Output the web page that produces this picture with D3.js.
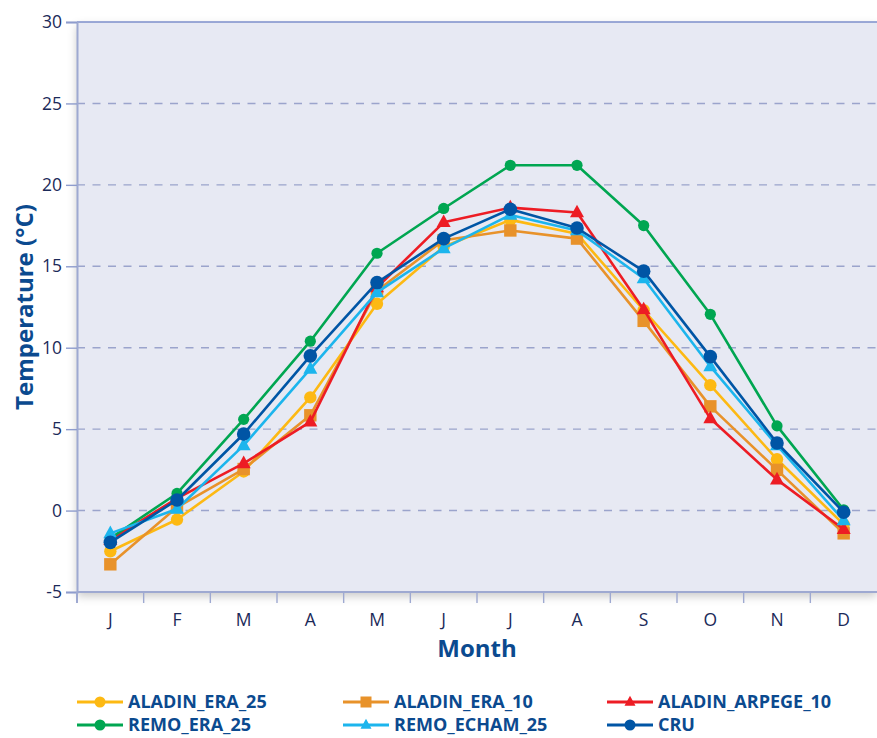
<!DOCTYPE html>
<html>
<head>
<meta charset="utf-8">
<script src="https://cdn.jsdelivr.net/npm/d3@7"></script>
<style>
  body { margin: 0; background: #fff; }
  svg text { font-family: "Open Sans", "Noto Sans", sans-serif; }
</style>
</head>
<body>
<svg id="chart" width="877" height="738"></svg>
<script>
// Month labels
const months = ["J", "F", "M", "A", "M", "J", "J", "A", "S", "O", "N", "D"];
const yTicks = [-5, 0, 5, 10, 15, 20, 25, 30];

// Series values (°C)
const aladinEra25   = [-2.5, -0.55, 2.4, 6.95, 12.7, 16.2, 17.85, 17.0, 12.3, 7.7, 3.15, -0.85];
const aladinEra10   = [-3.3, 0.2, 2.55, 5.85, 13.5, 16.6, 17.2, 16.7, 11.65, 6.4, 2.5, -1.4];
const aladinArpege10 = [-1.8, 0.75, 2.9, 5.45, 13.7, 17.7, 18.6, 18.3, 12.35, 5.65, 1.9, -1.15];
const remoEra25     = [-1.7, 1.05, 5.6, 10.4, 15.8, 18.55, 21.2, 21.2, 17.5, 12.05, 5.2, 0.05];
const remoEcham25   = [-1.4, 0.1, 4.0, 8.7, 13.4, 16.1, 18.15, 17.2, 14.25, 8.85, 4.0, -0.6];
const cru           = [-1.95, 0.65, 4.7, 9.5, 14.0, 16.7, 18.5, 17.35, 14.7, 9.45, 4.15, -0.1];

const series = [
  {name: "ALADIN_ERA_25", values: aladinEra25, color: "#fdb913", shape: "circle", r: 6.2},
  {name: "ALADIN_ERA_10", values: aladinEra10, color: "#e8922a", shape: "square", r: 6.2},
  {name: "ALADIN_ARPEGE_10", values: aladinArpege10, color: "#ed1c24", shape: "triangle", r: 7},
  {name: "REMO_ERA_25", values: remoEra25, color: "#00a651", shape: "circle", r: 5.6},
  {name: "REMO_ECHAM_25", values: remoEcham25, color: "#1cb5ed", shape: "triangle", r: 7},
  {name: "CRU", values: cru, color: "#0055a5", shape: "circle", r: 6.8}
];

const margin = {top: 22, right: 0, bottom: 146, left: 77},
    width = 877 - margin.left - margin.right,
    height = 738 - margin.top - margin.bottom;

const svg = d3.select("#chart");

// soft shadow under the plot area
const defs = svg.append("defs");
const filt = defs.append("filter").attr("id", "shadow")
    .attr("x", "-5%").attr("y", "-5%").attr("width", "110%").attr("height", "115%");
filt.append("feDropShadow")
    .attr("dx", 0).attr("dy", 4).attr("stdDeviation", 5)
    .attr("flood-color", "#000").attr("flood-opacity", 0.22);

const g = svg.append("g").attr("transform", `translate(${margin.left},${margin.top})`);

const x = d3.scaleBand().domain(d3.range(12)).range([0, width]);
const y = d3.scaleLinear().domain([-5, 30]).range([height, 0]);

// plot background
g.append("rect")
    .attr("width", width).attr("height", height)
    .attr("fill", "#e7e9f3")
    .attr("filter", "url(#shadow)");

// dashed grid lines
g.selectAll(".grid")
    .data(yTicks.filter(d => d > -5 && d < 30))
    .enter().append("line")
    .attr("x1", 0).attr("x2", width)
    .attr("y1", d => y(d)).attr("y2", d => y(d))
    .attr("stroke", "#9ba4cc")
    .attr("stroke-width", 1.4)
    .attr("stroke-dasharray", "8,7.5");

// top border
g.append("line")
    .attr("x1", 0).attr("x2", width).attr("y1", 0).attr("y2", 0)
    .attr("stroke", "#7e8fcb").attr("stroke-width", 1.6);

// Y axis (plain hyphen for negatives)
const yAxis = g.append("g")
    .call(d3.axisLeft(y).tickValues(yTicks).tickFormat(d => String(d)).tickSize(11).tickPadding(4));
yAxis.select(".domain").attr("stroke", "#9ea9d1").attr("stroke-width", 2);
yAxis.selectAll(".tick line").attr("stroke", "#8e9ccd").attr("stroke-width", 1.4);
yAxis.selectAll(".tick text")
    .attr("fill", "#1b2a59").style("font-size", "17.5px");

// X axis (ticks between months)
const xb = g.append("g").attr("transform", `translate(0,${height})`);
xb.append("line").attr("x1", 0).attr("x2", width)
    .attr("stroke", "#9ea9d1").attr("stroke-width", 2);
xb.selectAll(".xt")
    .data(d3.range(1, 12))
    .enter().append("line")
    .attr("x1", d => x(d)).attr("x2", d => x(d))
    .attr("y1", 0).attr("y2", 11)
    .attr("stroke", "#9ea9d1").attr("stroke-width", 1.4);
xb.append("line").attr("x1", 0).attr("x2", 0).attr("y1", 0).attr("y2", 11)
    .attr("stroke", "#9ea9d1").attr("stroke-width", 2);
xb.selectAll(".xl")
    .data(months)
    .enter().append("text")
    .attr("x", (d, i) => x(i) + x.bandwidth() / 2)
    .attr("y", 34)
    .attr("text-anchor", "middle")
    .attr("fill", "#1b2a59")
    .style("font-size", "17.5px")
    .text(d => d);

// axis titles
svg.append("text")
    .attr("transform", `translate(33,${margin.top + y(12.5)}) rotate(-90)`)
    .attr("text-anchor", "middle")
    .attr("fill", "#0b4a8f")
    .style("font-size", "24px").style("font-weight", "bold")
    .text("Temperature (°C)");
svg.append("text")
    .attr("x", margin.left + width / 2)
    .attr("y", 657)
    .attr("text-anchor", "middle")
    .attr("fill", "#0b4a8f")
    .style("font-size", "24px").style("font-weight", "bold")
    .text("Month");

function drawMarker(sel, s, r) {
  if (s.shape === "circle") {
    sel.append("circle").attr("r", r).attr("fill", s.color);
  } else if (s.shape === "square") {
    sel.append("rect").attr("x", -r).attr("y", -r).attr("width", 2 * r).attr("height", 2 * r).attr("fill", s.color);
  } else {
    const h = r * 1.8;
    sel.append("path")
        .attr("d", `M0,${-h * 0.62}L${r},${h * 0.38}L${-r},${h * 0.38}Z`)
        .attr("fill", s.color);
  }
}

const line = d3.line()
    .x((d, i) => x(i) + x.bandwidth() / 2)
    .y(d => y(d));

series.forEach(s => {
  const sg = g.append("g");
  sg.append("path")
      .attr("d", line(s.values))
      .attr("fill", "none")
      .attr("stroke", s.color)
      .attr("stroke-width", 2.6)
      .attr("stroke-linejoin", "round");
  sg.selectAll(".pt")
      .data(s.values)
      .enter().append("g")
      .attr("transform", (d, i) => `translate(${x(i) + x.bandwidth() / 2},${y(d)})`)
      .each(function () { drawMarker(d3.select(this), s, s.r); });
});

// legend
const legCols = [77, 343, 607];
const legRows = [702, 725];
series.forEach((s, i) => {
  const lx = legCols[i % 3], ly = legRows[Math.floor(i / 3)];
  const lg = svg.append("g").attr("transform", `translate(${lx},${ly})`);
  lg.append("line").attr("x1", 0).attr("x2", 46).attr("y1", 0).attr("y2", 0)
      .attr("stroke", s.color).attr("stroke-width", 3);
  const mg = lg.append("g").attr("transform", "translate(23,0)");
  drawMarker(mg, s, 5.5);
  lg.append("text")
      .attr("x", 51).attr("y", 0).attr("dy", "0.36em")
      .attr("fill", "#0b4a8f")
      .style("font-size", "18px").style("font-weight", "bold")
      .text(s.name);
});
</script>
</body>
</html>
